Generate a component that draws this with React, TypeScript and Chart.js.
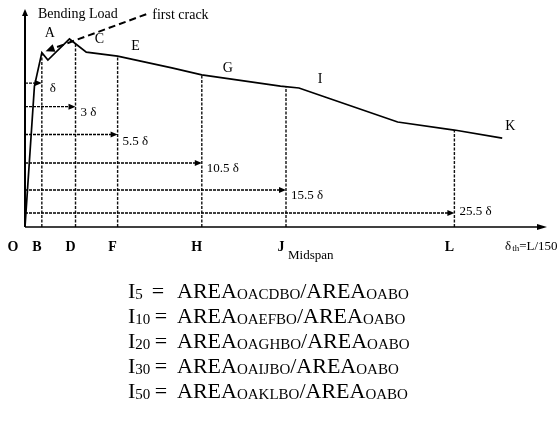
import { useEffect, useRef } from "react";
import { Chart, registerables } from "chart.js";

Chart.register(...registerables);

// Load–deflection curve (deflection in multiples of δ, load relative to first-crack load)
const curveDeflection = [0, 0.56, 1, 1.36, 2.64, 3.64, 5.5, 8.72, 10.5, 15.17, 16.27, 17.99, 22.13, 25.5, 28.34];
const curveLoad = [0, 0.808, 1.0, 0.957, 1.078, 1.003, 0.98, 0.912, 0.872, 0.808, 0.797, 0.74, 0.602, 0.556, 0.51];

// Deflections at which the toughness areas are closed
const markDeflection = [1, 3, 5.5, 10.5, 15.5, 25.5];
const axisLetters = ["B", "D", "F", "H", "J", "L"];

// Points named on the curve
const curveLetters = ["A", "C", "E", "G", "I", "K"];
const curveLetterDeflection = [1, 2.64, 5.5, 10.5, 15.5, 28.34];

// End of the "first crack" line (deflection, load)
const firstCrackEnd = [7.2, 1.22];

// Toughness indices and the area each one uses
const toughnessIndex = ["5", "10", "20", "30", "50"];
const areaPath = ["OACDBO", "OAEFBO", "OAGHBO", "OAIJBO", "OAKLBO"];
const referenceArea = "OABO";

const xMax = 31;
const yMax = 1.25;

// Layout of the deflection arrows (load level of each row, label nudge)
const arrowRowLoad = [0.825, 0.69, 0.53, 0.367, 0.212, 0.08];
const arrowLabelDy = [5, 6, 7, 6, 6, -1];
const letterOffset = [
  [8, -19],
  [30, 0],
  [18, -10],
  [26, -7],
  [34, -7],
  [8, -12],
];

const SERIF = "'Liberation Serif', 'Times New Roman', serif";

function loadAt(d: number): number {
  for (let i = 1; i < curveDeflection.length; i++) {
    const x0 = curveDeflection[i - 1];
    const x1 = curveDeflection[i];
    if (d <= x1) {
      const t = (d - x0) / (x1 - x0);
      return curveLoad[i - 1] + t * (curveLoad[i] - curveLoad[i - 1]);
    }
  }
  return curveLoad[curveLoad.length - 1];
}

function arrowHead(ctx: CanvasRenderingContext2D, tx: number, ty: number, ang: number, len: number, hw: number) {
  ctx.save();
  ctx.translate(tx, ty);
  ctx.rotate(ang);
  ctx.beginPath();
  ctx.moveTo(0, 0);
  ctx.lineTo(-len, -hw);
  ctx.lineTo(-len, hw);
  ctx.closePath();
  ctx.fill();
  ctx.restore();
}

const schematicPlugin = {
  id: "bendingSchematic",
  afterDatasetsDraw(chart: any) {
    const ctx: CanvasRenderingContext2D = chart.ctx;
    const xs = chart.scales.x;
    const ys = chart.scales.y;
    const px = (d: number) => xs.getPixelForValue(d);
    const py = (l: number) => ys.getPixelForValue(l);
    const ox = px(0);
    const oy = py(0);

    ctx.save();
    ctx.fillStyle = "#000";
    ctx.strokeStyle = "#000";
    ctx.setLineDash([]);

    // y axis
    ctx.lineWidth = 2;
    ctx.beginPath();
    ctx.moveTo(ox, oy);
    ctx.lineTo(ox, py(yMax) + 5);
    ctx.stroke();
    arrowHead(ctx, ox, py(yMax), -Math.PI / 2, 7, 3);

    // x axis
    ctx.lineWidth = 1.5;
    ctx.beginPath();
    ctx.moveTo(ox, oy);
    ctx.lineTo(px(xMax) - 8, oy);
    ctx.stroke();
    arrowHead(ctx, px(xMax), oy, 0, 10, 3);

    // deflection arrows
    ctx.font = `13px ${SERIF}`;
    ctx.textBaseline = "middle";
    ctx.textAlign = "left";
    markDeflection.forEach((d, i) => {
      const y = py(arrowRowLoad[i]);
      const xe = px(d);
      ctx.lineWidth = 1.4;
      ctx.setLineDash([3, 1]);
      ctx.beginPath();
      ctx.moveTo(ox, y);
      ctx.lineTo(xe - 5, y);
      ctx.stroke();
      ctx.setLineDash([]);
      arrowHead(ctx, xe, y, 0, 7, 3);
      const label = d === 1 ? "δ" : `${d} δ`;
      ctx.fillText(label, xe + (d === 1 ? 8 : 5), y + arrowLabelDy[i]);
    });

    // first crack line pointing at A
    const ax = px(1);
    const ay = py(loadAt(1));
    const ex = px(firstCrackEnd[0]);
    const ey = py(firstCrackEnd[1]);
    const ang = Math.atan2(ay - ey, ax - ex);
    const tipX = ax + Math.cos(ang + Math.PI) * 4;
    const tipY = ay + Math.sin(ang + Math.PI) * 4;
    ctx.lineWidth = 2;
    ctx.setLineDash([7, 4]);
    ctx.beginPath();
    ctx.moveTo(ex, ey);
    ctx.lineTo(tipX - Math.cos(ang) * 7, tipY - Math.sin(ang) * 7);
    ctx.stroke();
    ctx.setLineDash([]);
    arrowHead(ctx, tipX, tipY, ang, 9, 4);

    ctx.font = `14px ${SERIF}`;
    ctx.textAlign = "left";
    ctx.fillText("first crack", ex + 6, ey + 1);
    ctx.fillText("Bending Load", ox + 13, py(yMax) + 5);

    // curve point names
    ctx.textAlign = "center";
    curveLetters.forEach((s, i) => {
      const d = curveLetterDeflection[i];
      ctx.fillText(s, px(d) + letterOffset[i][0], py(loadAt(d)) + letterOffset[i][1]);
    });

    // axis point names
    ctx.font = `bold 14px ${SERIF}`;
    ctx.fillText("O", ox - 12, oy + 20);
    axisLetters.forEach((s, i) => {
      ctx.fillText(s, px(markDeflection[i]) - 5, oy + 20);
    });

    ctx.font = `13px ${SERIF}`;
    ctx.textAlign = "left";
    ctx.fillText("Midspan", px(15.5) + 2, oy + 29);

    // axis title: δth = L/150
    let tx = px(xMax) - 42;
    ctx.fillText("δ", tx, oy + 20);
    tx += ctx.measureText("δ").width + 1;
    ctx.font = `9px ${SERIF}`;
    ctx.fillText("th", tx, oy + 22);
    tx += ctx.measureText("th").width;
    ctx.font = `13px ${SERIF}`;
    ctx.fillText("=L/150", tx, oy + 20);

    // toughness index definitions
    const main = `22px ${SERIF}`;
    const sub = `15px ${SERIF}`;
    ctx.textBaseline = "alphabetic";
    toughnessIndex.forEach((n, i) => {
      const base = oy + 71 + i * 25;
      let x = ox + 103;
      ctx.textAlign = "left";
      ctx.font = main;
      ctx.fillText("I", x, base);
      x += ctx.measureText("I").width;
      ctx.font = sub;
      ctx.fillText(n, x, base + 1);
      ctx.font = main;
      ctx.textAlign = "center";
      ctx.fillText("=", ox + (n.length > 1 ? 136 : 133), base);
      ctx.textAlign = "left";
      x = ox + 152;
      ctx.fillText("AREA", x, base);
      x += ctx.measureText("AREA").width;
      ctx.font = sub;
      ctx.fillText(areaPath[i], x, base + 1);
      x += ctx.measureText(areaPath[i]).width;
      ctx.font = main;
      ctx.fillText("/AREA", x, base);
      x += ctx.measureText("/AREA").width;
      ctx.font = sub;
      ctx.fillText(referenceArea, x, base + 1);
    });

    ctx.restore();
  },
};

export default function App() {
  const canvasRef = useRef<HTMLCanvasElement | null>(null);

  useEffect(() => {
    const canvas = canvasRef.current;
    if (!canvas) return;

    const curve = curveDeflection.map((x, i) => ({ x, y: curveLoad[i] }));
    const verticals = markDeflection.map((d) => ({
      data: [
        { x: d, y: 0 },
        { x: d, y: loadAt(d) },
      ],
      borderColor: "#111",
      borderWidth: 1.4,
      borderDash: [3, 1.5],
      pointRadius: 0,
      tension: 0,
    }));

    const chart = new Chart(canvas, {
      type: "line",
      data: {
        datasets: [
          {
            data: curve,
            borderColor: "#000",
            borderWidth: 1.7,
            pointRadius: 0,
            tension: 0,
          },
          ...verticals,
        ],
      },
      options: {
        animation: false,
        responsive: false,
        maintainAspectRatio: false,
        layout: { padding: { left: 25, right: 13, top: 9, bottom: 201 } },
        scales: {
          x: { type: "linear", min: 0, max: xMax, display: false },
          y: { type: "linear", min: 0, max: yMax, display: false },
        },
        plugins: {
          legend: { display: false },
          tooltip: { enabled: false },
        },
      },
      plugins: [schematicPlugin],
    } as any);

    return () => chart.destroy();
  }, []);

  return (
    <div style={{ position: "absolute", left: 0, top: 0, width: 560, height: 428, background: "#fff" }}>
      <canvas ref={canvasRef} width={560} height={428} />
    </div>
  );
}
